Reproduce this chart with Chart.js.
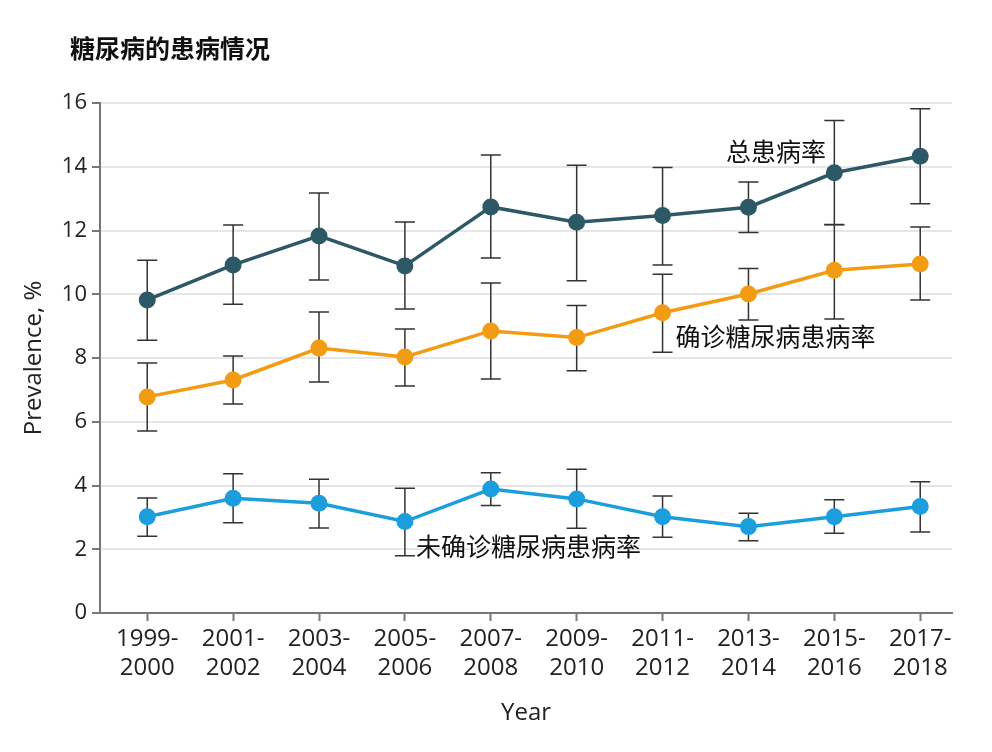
<!DOCTYPE html>
<html>
<head>
<meta charset="utf-8">
<script src="https://cdn.jsdelivr.net/npm/chart.js@4.4.1/dist/chart.umd.min.js"></script>
<style>
  html, body { margin: 0; background: #fff; }
  #wrap { width: 992px; height: 752px; }
</style>
</head>
<body>
<div id="wrap"><canvas id="prevChart" width="992" height="752"></canvas></div>
<script>
const years = [['1999-', '2000'], ['2001-', '2002'], ['2003-', '2004'], ['2005-', '2006'], ['2007-', '2008'],
               ['2009-', '2010'], ['2011-', '2012'], ['2013-', '2014'], ['2015-', '2016'], ['2017-', '2018']];

// 总患病率
const totalRate = [9.82, 10.92, 11.83, 10.89, 12.74, 12.26, 12.47, 12.73, 13.81, 14.33];
const totalLow  = [8.56, 9.69, 10.45, 9.54, 11.14, 10.42, 10.92, 11.94, 12.19, 12.84];
const totalHigh = [11.07, 12.17, 13.18, 12.27, 14.37, 14.05, 13.98, 13.52, 15.45, 15.82];

// 确诊糖尿病患病率
const diagRate = [6.78, 7.31, 8.31, 8.03, 8.85, 8.64, 9.42, 10.01, 10.75, 10.95];
const diagLow  = [5.71, 6.56, 7.25, 7.12, 7.34, 7.60, 8.18, 9.19, 9.22, 9.82];
const diagHigh = [7.84, 8.06, 9.44, 8.91, 10.35, 9.65, 10.63, 10.81, 12.18, 12.11];

// 未确诊糖尿病患病率
const undiagRate = [3.02, 3.60, 3.44, 2.87, 3.89, 3.58, 3.02, 2.71, 3.02, 3.34];
const undiagLow  = [2.41, 2.83, 2.67, 1.80, 3.37, 2.66, 2.38, 2.27, 2.50, 2.54];
const undiagHigh = [3.61, 4.37, 4.20, 3.91, 4.40, 4.51, 3.67, 3.13, 3.55, 4.12];

const seriesNames = ['总患病率', '确诊糖尿病患病率', '未确诊糖尿病患病率'];

const FONT = "'Open Sans', 'Noto Sans CJK SC', sans-serif";
const CJK = "'Noto Sans CJK SC', sans-serif";

const toPoints = arr => arr.map((v, i) => ({ x: i, y: v }));

function makeSet(label, values, low, high, color) {
    return {
        label: label,
        data: toPoints(values),
        low: low,
        high: high,
        borderColor: color,
        backgroundColor: color,
        borderWidth: 3.5,
        pointRadius: 8.5,
        pointHoverRadius: 8.5,
        pointBorderWidth: 0,
        tension: 0
    };
}

// error bars, drawn behind the lines and markers
const errorBars = {
    id: 'errorBars',
    beforeDatasetsDraw(chart) {
        const { ctx, scales: { x, y } } = chart;
        ctx.save();
        ctx.strokeStyle = '#333';
        ctx.lineWidth = 1.5;
        chart.data.datasets.forEach(ds => {
            ds.low.forEach((lo, i) => {
                const px = x.getPixelForValue(i);
                const yLo = y.getPixelForValue(lo);
                const yHi = y.getPixelForValue(ds.high[i]);
                ctx.beginPath();
                ctx.moveTo(px, yLo); ctx.lineTo(px, yHi);
                ctx.moveTo(px - 10, yLo); ctx.lineTo(px + 10, yLo);
                ctx.moveTo(px - 10, yHi); ctx.lineTo(px + 10, yHi);
                ctx.stroke();
            });
        });
        ctx.restore();
    }
};

// series labels placed in data coordinates
const labelAt = [[6.74, 14.49], [6.15, 8.66], [3.13, 2.10]];

const textLayer = {
    id: 'textLayer',
    afterDraw(chart) {
        const { ctx, scales: { x, y } } = chart;
        ctx.save();
        ctx.fillStyle = '#111';
        ctx.textBaseline = 'middle';
        ctx.textAlign = 'left';
        ctx.font = '25px ' + CJK;
        seriesNames.forEach((name, i) => {
            ctx.fillText(name, x.getPixelForValue(labelAt[i][0]), y.getPixelForValue(labelAt[i][1]));
        });
        ctx.font = 'bold 25px ' + CJK;
        ctx.fillText('糖尿病的患病情况', 70, 48);
        ctx.restore();
    }
};

new Chart(document.getElementById('prevChart'), {
    type: 'line',
    data: {
        datasets: [
            makeSet(seriesNames[0], totalRate, totalLow, totalHigh, '#2d5866'),
            makeSet(seriesNames[1], diagRate, diagLow, diagHigh, '#f19c13'),
            makeSet(seriesNames[2], undiagRate, undiagLow, undiagHigh, '#1b9edb')
        ]
    },
    options: {
        responsive: false,
        animation: false,
        devicePixelRatio: 1,
        layout: { padding: { top: 103, right: 40, left: 0, bottom: 0 } },
        plugins: {
            legend: { display: false },
            tooltip: { enabled: false }
        },
        scales: {
            x: {
                type: 'linear',
                min: -0.55,
                max: 9.37,
                afterBuildTicks: s => { s.ticks = years.map((_, i) => ({ value: i })); },
                afterFit: s => { s.height = 139; },
                ticks: {
                    callback: v => years[v],
                    autoSkip: false,
                    maxRotation: 0,
                    font: { family: FONT, size: 24, lineHeight: 1.2 },
                    color: '#222',
                    padding: 4
                },
                grid: { drawOnChartArea: false, drawTicks: true, tickLength: 8, tickColor: '#777', tickWidth: 2 },
                border: { color: '#777', width: 2 },
                title: {
                    display: true,
                    text: 'Year',
                    font: { family: FONT, size: 24 },
                    color: '#222',
                    padding: { top: 0, bottom: 24 }
                }
            },
            y: {
                min: 0,
                max: 16,
                afterFit: s => { s.width = 100; },
                ticks: {
                    stepSize: 2,
                    font: { family: FONT, size: 22 },
                    color: '#222',
                    padding: 5
                },
                grid: { color: '#e6e6e6', lineWidth: 2, tickLength: 8, tickColor: '#777', tickWidth: 2 },
                border: { color: '#777', width: 2 },
                title: {
                    display: true,
                    text: 'Prevalence, %',
                    font: { family: FONT, size: 24 },
                    color: '#222',
                    padding: { top: 20, bottom: 0 }
                }
            }
        }
    },
    plugins: [errorBars, textLayer]
});
</script>
</body>
</html>
